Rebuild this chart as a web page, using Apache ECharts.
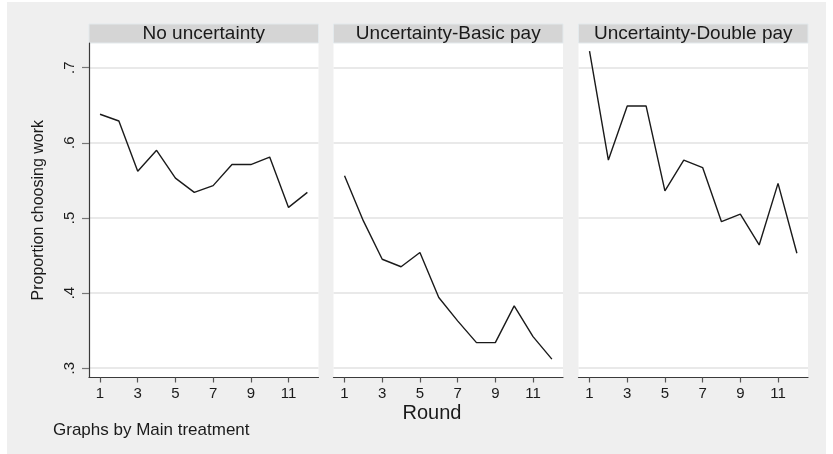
<!DOCTYPE html>
<html>
<head>
<meta charset="utf-8">
<script src="https://cdn.jsdelivr.net/npm/echarts@6/dist/echarts.min.js"></script>
<style>
html,body{margin:0;padding:0;background:#fff;}
#chart{width:833px;height:454px;}
</style>
</head>
<body>
<div id="chart"></div>
<script>
// ---- data ----
var rounds = [1,2,3,4,5,6,7,8,9,10,11,12];
var panelTitles = ['No uncertainty', 'Uncertainty-Basic pay', 'Uncertainty-Double pay'];
var noUncertainty = [0.638,0.629,0.562,0.590,0.553,0.534,0.543,0.571,0.571,0.581,0.514,0.534];
var basicPay      = [0.556,0.496,0.445,0.435,0.454,0.394,0.363,0.334,0.334,0.383,0.342,0.312];
var doublePay     = [0.722,0.577,0.649,0.649,0.536,0.577,0.567,0.495,0.505,0.464,0.546,0.453];
var xTicks = [1,3,5,7,9,11];
var yTicks = [0.3,0.4,0.5,0.6,0.7];
var yTickLabels = ['.3','.4','.5','.6','.7'];
var yTitle = 'Proportion choosing work';
var xTitle = 'Round';
var note = 'Graphs by Main treatment';

// ---- layout ----
var FONT = '"Liberation Sans", Arial, sans-serif';
var panelLeft = [89, 333.5, 578.5];
var panelW = 229.5;
var plotTop = 43, plotBottom = 377.5;
var stripTop = 24;
var seriesData = [noUncertainty, basicPay, doublePay];

var chart = echarts.init(document.getElementById('chart'), null, {renderer:'canvas'});

var grids = [], xAxes = [], yAxes = [], series = [], graphics = [];
graphics.push({type:'rect', z:-10, shape:{x:7,y:2,width:819,height:452}, style:{fill:'#efefef'}});

for (var i = 0; i < 3; i++) {
  grids.push({left: panelLeft[i], top: plotTop, width: panelW, height: plotBottom - plotTop,
    show: true, backgroundColor: '#ffffff', borderWidth: 0});
  xAxes.push({type:'value', gridIndex:i, min:0.415, max:12.59,
    axisLine:{show:true, onZero:false, lineStyle:{color:'#3a3a3a', width:1.2}},
    axisTick:{show:true, length:5, customValues:xTicks, lineStyle:{color:'#555', width:1.2}},
    axisLabel:{show:true, customValues:xTicks, margin:9, color:'#1a1a1a', fontSize:15, fontFamily:FONT},
    splitLine:{show:false}});
  yAxes.push({type:'value', gridIndex:i, min:0.2876, max:0.7328,
    name: i === 0 ? yTitle : '', nameLocation:'middle', nameGap:42,
    nameTextStyle:{fontSize:16, color:'#1a1a1a', fontFamily:FONT},
    axisLine:{show: i === 0, onZero:false, lineStyle:{color:'#3a3a3a', width:1.2}},
    axisTick:{show: i === 0, length:7, customValues:yTicks, lineStyle:{color:'#777', width:1.2}},
    axisLabel:{show: i === 0, customValues:yTicks, rotate:90, margin:12, color:'#1a1a1a', fontSize:15, fontFamily:FONT,
      formatter:function(v){ var k = yTicks.findIndex(function(t){return Math.abs(t-v)<1e-6;}); return k>=0 ? yTickLabels[k] : ''; }},
    splitLine:{show:true, lineStyle:{color:'#e9e9e9', width:2}}});
  series.push({type:'line', xAxisIndex:i, yAxisIndex:i, symbol:'none', clip:false,
    data: rounds.map(function(r, j){ return [r, seriesData[i][j]]; }),
    lineStyle:{color:'#1a1a1a', width:1.4}});
  // strip header
  graphics.push({type:'rect', shape:{x:panelLeft[i], y:stripTop, width:panelW, height:plotTop-stripTop},
    style:{fill:'#d5d5d5', stroke:'#e3e9ec', lineWidth:1}});
  graphics.push({type:'text', x: panelLeft[i] + panelW/2, y: (stripTop+plotTop)/2 + 0.5,
    style:{text: panelTitles[i], fill:'#1a1a1a', fontSize:19, fontFamily:FONT, align:'center', verticalAlign:'middle'}});
}
graphics.push({type:'text', x:432, y:413, style:{text:xTitle, fill:'#1a1a1a', fontSize:20, fontFamily:FONT, align:'center', verticalAlign:'middle'}});
graphics.push({type:'text', x:53, y:430, style:{text:note, fill:'#1a1a1a', fontSize:17, fontFamily:FONT, align:'left', verticalAlign:'middle'}});

chart.setOption({
  animation:false,
  backgroundColor:'#ffffff',
  grid: grids, xAxis: xAxes, yAxis: yAxes, series: series, graphic: graphics
});
</script>
</body>
</html>
